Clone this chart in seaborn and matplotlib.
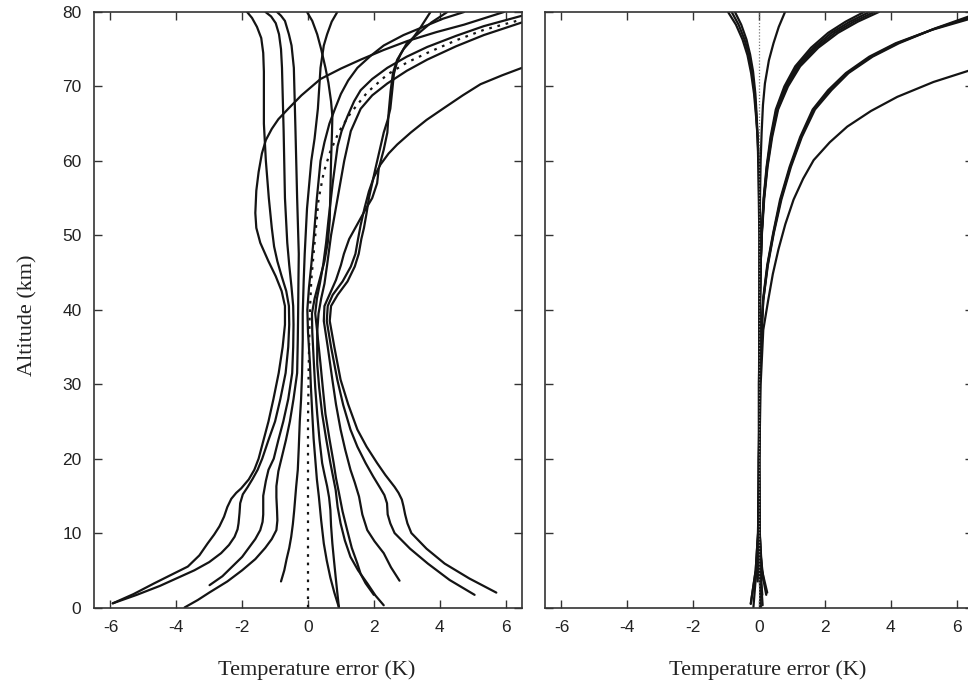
import pandas as pd
import matplotlib
matplotlib.use("Agg")
import matplotlib.pyplot as plt
import seaborn as sns

# каждая кривая: (ошибка температуры, K ; высота, км)
# левая панель
left_a = [(-5.93, 0.56), (-5.3, 1.8), (-4.67, 3.25), (-4.15, 4.4), (-3.65, 5.5), (-3.3, 7),
          (-3.05, 8.6), (-2.85, 9.8), (-2.69, 10.9), (-2.55, 12.2), (-2.45, 13.5), (-2.33, 14.6),
          (-2.18, 15.4), (-2.03, 16.0), (-1.8, 17.2), (-1.63, 18.5), (-1.5, 20), (-1.35, 22.5),
          (-1.2, 25), (-1.05, 28), (-0.89, 31.5),
          (-0.77, 35), (-0.7, 38), (-0.7, 40.5), (-0.8, 42.5), (-0.98, 44.5), (-1.2, 46.5),
          (-1.45, 49), (-1.57, 51), (-1.6, 53), (-1.57, 56), (-1.5, 58.5), (-1.4, 61),
          (-1.28, 62.8), (-1.1, 64.3), (-0.9, 65.6), (-0.6, 67), (-0.2, 68.8), (0.38, 71),
          (1.0, 72.4), (1.6, 73.6), (2.3, 74.9), (3.02, 76.1), (3.9, 77.3), (4.74, 78.3), (5.95, 80)]
left_b = [(-5.93, 0.56), (-5.2, 1.7), (-4.5, 2.9), (-3.95, 4.0), (-3.45, 5.0), (-3.0, 6.1),
          (-2.64, 7.3), (-2.4, 8.4), (-2.23, 9.5), (-2.14, 10.5), (-2.11, 11.3), (-2.08, 12.7),
          (-2.06, 14.0), (-1.98, 15.2), (-1.83, 16.2), (-1.68, 17.3), (-1.53, 18.5), (-1.39, 20),
          (-1.2, 22.5), (-1.0, 25), (-0.84, 28), (-0.68, 31.5),
          (-0.6, 35), (-0.57, 38), (-0.58, 40.5), (-0.66, 42.5), (-0.8, 44.5), (-0.93, 46.5),
          (-1.03, 48.5), (-1.1, 51), (-1.19, 55), (-1.28, 60), (-1.34, 65), (-1.34, 72),
          (-1.36, 74.5), (-1.42, 76.5), (-1.55, 78), (-1.7, 79.2), (-1.85, 80)]
left_c = [(-2.99, 3.0), (-2.6, 4.2), (-2.3, 5.5), (-2.0, 6.8), (-1.8, 8), (-1.6, 9.2),
          (-1.45, 10.4), (-1.38, 11.5), (-1.36, 12.5), (-1.36, 15), (-1.28, 17), (-1.2, 18.5),
          (-1.04, 20), (-0.9, 22.5), (-0.75, 25), (-0.6, 28), (-0.48, 31.5),
          (-0.45, 35), (-0.44, 38), (-0.45, 40.5), (-0.5, 43), (-0.57, 46), (-0.63, 49),
          (-0.7, 55), (-0.74, 64), (-0.79, 72.5), (-0.82, 75), (-0.88, 77), (-0.98, 78.5),
          (-1.12, 79.4), (-1.29, 80)]
left_d = [(-3.75, 0), (-3.35, 1), (-3.0, 2), (-2.45, 3.5), (-2.0, 5), (-1.6, 6.5), (-1.3, 8),
          (-1.1, 9.2), (-0.96, 10.4), (-0.93, 11.7), (-0.94, 13), (-0.96, 14.8), (-0.96, 16.3),
          (-0.9, 18.3), (-0.79, 20.3), (-0.67, 22.5), (-0.55, 25), (-0.44, 28), (-0.33, 31.5),
          (-0.31, 36), (-0.3, 39.5), (-0.29, 44), (-0.28, 47.5), (-0.33, 55), (-0.38, 64),
          (-0.43, 72.5), (-0.5, 75.5), (-0.58, 77), (-0.7, 78.8), (-0.82, 79.5), (-0.94, 80)]
left_e = [(-0.82, 3.5), (-0.72, 5), (-0.65, 6.5), (-0.57, 8), (-0.51, 9.5), (-0.46, 11.2),
          (-0.42, 13), (-0.36, 16.2), (-0.31, 18.5), (-0.28, 21.5), (-0.25, 25), (-0.21, 28),
          (-0.18, 31.5), (-0.16, 36), (-0.16, 39.5), (-0.13, 44), (-0.1, 47.5),
          (-0.03, 53.6), (0.1, 60), (0.2, 63), (0.3, 67), (0.38, 72.5), (0.48, 75.5),
          (0.58, 77), (0.72, 78.7), (0.89, 80)]
left_f = [(0.94, 0), (0.8, 2), (0.68, 4), (0.57, 6.3), (0.48, 8.6), (0.4, 11.7), (0.33, 14.9),
          (0.27, 17.2), (0.23, 19.4), (0.17, 22.7), (0.13, 26), (0.09, 29.5), (0.06, 32.7),
          (0.0, 37), (-0.02, 40), (0.03, 43), (0.1, 46), (0.18, 50), (0.27, 55), (0.38, 60),
          (0.5, 62.5), (0.65, 65), (0.82, 67), (1.0, 69), (1.22, 70.8), (1.5, 72.5), (1.9, 74.1),
          (2.3, 75.5), (2.9, 76.9), (3.5, 78), (4.1, 79.1), (4.74, 80)]
left_g = [(0.94, 0), (0.89, 2), (0.84, 4.1), (0.79, 6.3), (0.74, 8.6), (0.7, 11), (0.68, 13.1),
          (0.64, 14.8), (0.58, 16.3), (0.5, 17.9), (0.43, 19.4), (0.35, 22.5), (0.28, 26),
          (0.22, 29.5), (0.18, 32.7), (0.13, 37), (0.12, 39.5), (0.2, 41.5), (0.35, 44),
          (0.5, 46.5), (0.6, 49), (0.66, 52), (0.7, 60), (0.73, 64), (0.74, 66), (0.7, 68),
          (0.62, 70.5), (0.53, 72.5), (0.4, 75), (0.28, 77), (0.13, 78.8), (-0.03, 80)]
left_h = [(2.0, 1.7), (1.75, 3.25), (1.6, 4.5), (1.5, 5.9), (1.33, 8), (1.19, 10.4),
          (1.05, 12.9), (0.94, 15.4), (0.85, 17.4), (0.78, 19.4), (0.65, 22.7), (0.53, 26),
          (0.45, 29.5), (0.38, 32.7), (0.28, 37), (0.22, 39.5), (0.27, 41.5), (0.36, 43.5),
          (0.46, 46), (0.55, 49), (0.62, 52), (0.75, 57), (0.9, 62), (1.02, 64), (1.2, 66),
          (1.4, 68), (1.6, 69.5), (1.95, 71), (2.41, 72.5), (3.0, 74), (3.62, 75.3), (4.5, 76.8),
          (5.34, 78.1), (6.5, 79.5)]
left_i = [(2.3, 0.3), (2.05, 1.6), (1.8, 3.25), (1.52, 5), (1.29, 6.8), (1.12, 9), (0.99, 11.3),
          (0.9, 13.5), (0.84, 15.8), (0.76, 17.6), (0.68, 19.4), (0.55, 22.7), (0.43, 26),
          (0.34, 29.5), (0.28, 32.7), (0.28, 37), (0.32, 39.5), (0.4, 41.5), (0.5, 43.5),
          (0.58, 46), (0.64, 48), (0.7, 50), (0.9, 55), (1.1, 60), (1.3, 64), (1.6, 67),
          (1.95, 68.8), (2.41, 70.4), (3.0, 72.1), (3.62, 73.6), (4.5, 75.4), (5.34, 76.9),
          (6.5, 78.6)]
left_j = [(2.78, 3.6), (2.52, 5.4), (2.3, 7.3), (2.02, 8.9), (1.8, 10.4), (1.65, 12.5),
          (1.55, 14.9), (1.42, 16.8), (1.29, 18.5), (1.13, 21.2), (0.99, 23.9), (0.85, 27.3),
          (0.74, 30.6), (0.6, 35), (0.48, 38.5), (0.5, 40.5), (0.65, 42), (0.85, 44), (1.0, 46),
          (1.09, 47.5), (1.25, 49.5), (1.5, 51.5), (1.75, 53.5), (1.95, 55), (2.1, 57),
          (2.15, 59), (2.3, 61.5), (2.41, 63.8), (2.45, 66.5), (2.51, 69.4), (2.58, 71.8),
          (2.71, 73.6), (2.9, 75), (3.12, 76.1), (3.4, 77.8), (3.72, 80)]
left_k = [(5.06, 1.7), (4.3, 3.7), (3.64, 5.9), (3.1, 7.9), (2.63, 10), (2.5, 11.3),
          (2.42, 12.5), (2.4, 14), (2.32, 15.1), (2.2, 16), (1.98, 17.6), (1.75, 19.4),
          (1.5, 21.6), (1.29, 23.9), (1.07, 27.2), (0.89, 30.6), (0.7, 35), (0.57, 38.5),
          (0.6, 40.5), (0.75, 42), (1.05, 43.8), (1.3, 45.8), (1.44, 47.5), (1.52, 49.5),
          (1.6, 51.4), (1.72, 53.7), (1.85, 55.9), (2.0, 57.8), (2.2, 59.5), (2.45, 61),
          (2.71, 62.2), (3.12, 63.8), (3.6, 65.5), (4.13, 67.1), (4.7, 68.8), (5.24, 70.3),
          (5.9, 71.5), (6.5, 72.5)]
left_l = [(5.72, 2.0), (4.9, 3.9), (4.15, 5.9), (3.6, 7.9), (3.14, 10), (3.02, 11.3),
          (2.95, 12.5), (2.9, 13.6), (2.85, 14.5), (2.75, 15.4), (2.63, 16.2), (2.35, 17.8),
          (2.1, 19.4), (1.78, 21.6), (1.5, 23.9), (1.22, 27.3), (0.99, 30.6), (0.8, 35),
          (0.66, 38.5), (0.7, 40.5), (0.9, 42), (1.2, 43.8), (1.42, 45.8), (1.54, 47.5),
          (1.62, 49.5), (1.7, 51), (1.78, 53), (1.85, 55), (1.95, 57), (2.05, 59), (2.18, 61.5),
          (2.3, 63.8), (2.42, 65.5), (2.5, 67), (2.56, 69.5), (2.61, 71.7), (2.7, 73.2),
          (2.81, 74.3), (3.0, 75.8), (3.32, 77), (3.75, 78.6), (4.23, 80)]
left_ref = [(0, 0), (0, 25), (0.02, 32), (0.05, 39), (0.1, 44), (0.18, 48), (0.32, 54.8),
            (0.48, 58.5), (0.68, 61.3), (0.95, 64), (1.29, 66.4), (1.8, 69.2), (2.41, 71.6),
            (3.0, 73.2), (3.62, 74.5), (4.5, 76.2), (5.34, 77.6), (6.5, 79)]

# правая панель
right_a = [(-0.25, 0.5), (-0.1, 5), (-0.03, 10), (0.0, 20), (0.03, 30), (0.07, 36), (0.13, 41.3),
           (0.26, 46), (0.44, 50.3), (0.66, 54.8), (0.95, 59.2), (1.28, 63.2), (1.66, 66.9),
           (2.15, 69.5), (2.68, 71.8), (3.4, 74), (4.2, 75.8), (5.3, 77.7), (6.5, 79.4)]
right_b = [(-0.25, 0.5), (-0.1, 5), (-0.03, 10), (0, 20), (0, 30), (0.02, 40), (0.03, 50.3),
           (0.02, 55), (0.0, 59.2), (-0.04, 63), (-0.09, 66), (-0.15, 69), (-0.24, 71.8),
           (-0.35, 74.2), (-0.5, 76.3), (-0.7, 78.3), (-0.94, 80)]
right_c = [(-0.13, 3), (-0.06, 6), (-0.02, 10), (0, 20), (0, 30), (0.02, 40), (0.02, 50),
           (-0.01, 59), (-0.04, 63), (-0.08, 66), (-0.13, 69), (-0.21, 72), (-0.31, 74.3),
           (-0.44, 76.3), (-0.62, 78.3), (-0.83, 80)]
right_d = [(-0.17, 0), (-0.08, 5), (-0.02, 10), (0, 20), (0, 30), (0.01, 40), (0.01, 50),
           (-0.02, 59), (-0.04, 63), (-0.07, 66), (-0.11, 69), (-0.18, 72), (-0.27, 74.3),
           (-0.38, 76.3), (-0.54, 78.3), (-0.73, 80)]
right_e = [(-0.04, 3.5), (-0.01, 7), (0, 12), (0, 20), (0.01, 30), (0.02, 40), (0.03, 54.8),
           (0.05, 60), (0.08, 63.8), (0.12, 67.5), (0.18, 70.4), (0.3, 73.5), (0.44, 75.8),
           (0.6, 78), (0.79, 80)]
right_f = [(0.05, 0), (0.02, 5), (0.01, 10), (0, 20), (0.01, 30), (0.03, 41.3), (0.05, 46),
           (0.09, 50.3), (0.16, 55), (0.26, 59.2), (0.4, 63.2), (0.58, 66.9), (0.88, 70),
           (1.25, 72.7), (1.8, 75.2), (2.4, 77.2), (3.0, 78.7), (3.64, 80)]
right_g = [(0.05, 0), (0.02, 5), (0.01, 10), (0, 20), (0.01, 30), (0.03, 41.3), (0.05, 46),
           (0.085, 50.3), (0.15, 55), (0.25, 59.2), (0.38, 63.2), (0.56, 66.9), (0.85, 70),
           (1.2, 72.7), (1.73, 75.2), (2.3, 77.2), (2.88, 78.7), (3.5, 80)]
right_h = [(0.1, 1.7), (0.04, 5), (0.01, 10), (0, 20), (0.02, 30), (0.06, 36), (0.13, 41.3),
           (0.27, 46), (0.45, 50.3), (0.68, 54.8), (0.97, 59.2), (1.3, 63.2), (1.7, 66.9),
           (2.2, 69.5), (2.72, 71.8), (3.45, 74), (4.25, 75.8), (5.35, 77.8), (6.5, 79.6)]
right_i = [(0.11, 0.3), (0.04, 5), (0.01, 10), (0, 20), (0.02, 30), (0.06, 36), (0.12, 41.3),
           (0.25, 46), (0.43, 50.3), (0.64, 54.8), (0.93, 59.2), (1.25, 63.2), (1.63, 66.9),
           (2.1, 69.5), (2.64, 71.8), (3.35, 74), (4.15, 75.8), (5.25, 77.6), (6.5, 79.2)]
right_j = [(0.14, 3.6), (0.05, 7), (0.01, 12), (0, 20), (0.01, 30), (0.03, 41.3), (0.05, 46),
           (0.08, 50.3), (0.14, 55), (0.23, 59.2), (0.35, 63.2), (0.51, 66.9), (0.77, 70),
           (1.1, 72.7), (1.58, 75.2), (2.1, 77.2), (2.63, 78.7), (3.19, 80)]
right_k = [(0.22, 1.7), (0.08, 5), (0.02, 10), (0.01, 20), (0.05, 30), (0.13, 37.3), (0.28, 41.3),
           (0.42, 44.8), (0.59, 48.1), (0.8, 51.5), (1.05, 54.8), (1.34, 57.6), (1.66, 60.1),
           (2.15, 62.5), (2.68, 64.6), (3.4, 66.7), (4.2, 68.6), (5.3, 70.6), (6.5, 72.3)]
right_l = [(0.25, 2.0), (0.09, 5), (0.02, 10), (0, 20), (0.01, 30), (0.03, 41.3), (0.05, 46),
           (0.08, 50.3), (0.15, 55), (0.24, 59.2), (0.37, 63.2), (0.53, 66.9), (0.81, 70),
           (1.15, 72.7), (1.66, 75.2), (2.2, 77.2), (2.76, 78.7), (3.35, 80)]
right_ref = [(0, 0), (0, 80)]

left_curves = [left_a, left_b, left_c, left_d, left_e, left_f,
               left_g, left_h, left_i, left_j, left_k, left_l]
right_curves = [right_a, right_b, right_c, right_d, right_e, right_f,
                right_g, right_h, right_i, right_j, right_k, right_l]
x_ticks = [-6, -4, -2, 0, 2, 4, 6]
y_ticks = [0, 10, 20, 30, 40, 50, 60, 70, 80]


def to_frame(curves):
    rows = []
    for n, pts in enumerate(curves):
        for err, alt in pts:
            rows.append({"curve": n, "err": err, "alt": alt})
    return pd.DataFrame(rows)


sns.set_theme(style="white")
plt.rcParams["font.family"] = ["Liberation Sans Narrow", "Liberation Sans", "DejaVu Sans"]

fig = plt.figure(figsize=(9.68, 6.87), dpi=100)
ax1 = fig.add_axes([94 / 968, 79.5 / 687, 428 / 968, 595.5 / 687])
ax2 = fig.add_axes([545 / 968, 79.5 / 687, 428 / 968, 595.5 / 687])

line_col = "#141414"
serif = ["Liberation Serif", "DejaVu Serif"]

for ax, curves, ref in [(ax1, left_curves, left_ref), (ax2, right_curves, right_ref)]:
    df = to_frame(curves)
    sns.lineplot(data=df, x="err", y="alt", units="curve", estimator=None, sort=False,
                 orient="y", color=line_col, linewidth=1.6, ax=ax)
    ref_df = pd.DataFrame(ref, columns=["err", "alt"])
    if ax is ax1:
        sns.lineplot(data=ref_df, x="err", y="alt", estimator=None, sort=False, orient="y",
                     color=line_col, linewidth=1.6, linestyle=(0, (1.2, 2.6)), ax=ax)
    else:
        sns.lineplot(data=ref_df, x="err", y="alt", estimator=None, sort=False, orient="y",
                     color="#777777", linewidth=0.9, linestyle=(0, (1, 1.5)), ax=ax)

    ax.set_xlim(-6.5, 6.5)
    ax.set_ylim(0, 80)
    ax.set_xticks(x_ticks)
    ax.set_yticks(y_ticks)
    ax.set_xticklabels([str(t) for t in x_ticks])
    ax.tick_params(direction="in", length=6, width=1, colors="#333333", labelcolor="#222222",
                   top=True, right=True, bottom=True, left=True, labelsize=12.5, pad=9)
    for s in ax.spines.values():
        s.set_color("#333333")
        s.set_linewidth(1.2)
    ax.set_xlabel("Temperature error (K)", family=serif, fontsize=16, color="#222222")
    ax.xaxis.set_label_coords(0.52, -0.088)
    ax.set_ylabel("")
    ax.grid(False)

ax1.set_ylabel("Altitude (km)", family=serif, fontsize=16, color="#222222")
ax1.yaxis.set_label_coords(-0.133, 0.49)
ax1.set_yticklabels([str(t) for t in y_ticks])
ax2.set_yticklabels([])

fig.savefig("out.png", dpi=100, facecolor="white")
